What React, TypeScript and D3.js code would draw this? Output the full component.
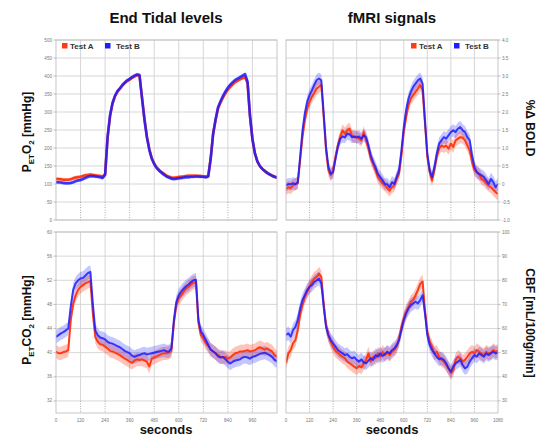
import React from "react";
import * as d3 from "d3";

// sample times (s), one reading every 12 s
const times = d3.range(0, 1081, 12);

const peto2A = [
  114, 114, 113, 112, 112, 112, 113, 116, 118, 119,
  120, 122, 124, 125, 126, 125, 124, 123, 122, 121,
  127, 228, 288, 323, 343, 356, 364, 373, 380, 386,
  390, 395, 399, 402, 401, 342, 282, 233, 197, 172,
  157, 146, 139, 133, 128, 123, 120, 118, 117, 118,
  119, 120, 121, 122, 123, 123, 123, 123, 122, 122,
  121, 120, 122, 172, 240, 278, 310, 326, 340, 352,
  362, 370, 377, 383, 387, 391, 394, 397, 380, 288,
  224, 185, 163, 150, 142, 136, 131, 127, 123, 120,
  118,
];
const peto2B = [
  105, 105, 104, 103, 102, 102, 103, 105, 108, 110,
  111, 114, 117, 120, 122, 122, 121, 120, 119, 117,
  125, 230, 290, 325, 345, 358, 366, 375, 382, 388,
  392, 397, 401, 404, 403, 340, 280, 230, 195, 170,
  155, 144, 137, 131, 126, 121, 118, 115, 114, 115,
  116, 117, 118, 119, 119, 120, 120, 121, 121, 120,
  120, 119, 121, 170, 240, 280, 314, 330, 345, 357,
  368, 376, 383, 389, 393, 397, 401, 405, 385, 290,
  225, 185, 163, 150, 142, 136, 131, 127, 123, 120,
  118,
];

const petco2A = [
  40.2, 39.9, 39.9, 40.1, 40.2, 40.4, 45.4, 48.1, 49.5, 50.4,
  50.9, 51.2, 51.5, 51.7, 51.9, 46.5, 42.6, 41.8, 41.4, 41.3,
  41.0, 40.7, 40.3, 40.2, 40.0, 39.8, 39.6, 39.3, 39.0, 38.8,
  38.5, 38.3, 38.7, 38.9, 38.8, 38.9, 38.7, 38.5, 37.7, 39.0,
  39.2, 39.4, 39.6, 39.8, 39.9, 39.9, 40.0, 40.2, 44.9, 47.9,
  49.0, 49.5, 50.1, 50.6, 50.9, 51.3, 51.6, 51.7, 44.9, 42.9,
  42.4, 41.6, 41.1, 40.5, 40.2, 39.9, 39.6, 39.3, 39.2, 39.3,
  39.0, 39.2, 39.6, 39.9, 40.0, 40.2, 40.2, 40.3, 40.4, 40.2,
  40.3, 40.4, 40.7, 40.9, 40.7, 40.5, 40.7, 40.4, 40.2, 39.6,
  39.3,
];
const petco2B = [
  42.6, 42.9, 43.2, 43.4, 43.7, 44.0, 47.6, 50.4, 51.5, 52.0,
  52.3, 52.4, 52.8, 53.2, 53.4, 48.1, 43.7, 42.9, 42.5, 42.4,
  42.2, 41.8, 41.6, 41.5, 41.3, 41.1, 40.9, 40.6, 40.3, 40.1,
  39.9, 39.5, 39.3, 39.5, 39.6, 39.8, 39.9, 39.7, 39.8, 39.9,
  40.0, 40.1, 40.2, 40.3, 40.4, 40.2, 40.2, 40.7, 45.4, 48.4,
  49.5, 50.1, 50.6, 51.0, 51.3, 51.7, 52.0, 52.1, 45.4, 43.5,
  42.9, 42.1, 41.3, 40.5, 40.2, 39.9, 39.4, 39.2, 39.3, 38.9,
  38.5, 38.2, 38.5, 38.7, 38.8, 38.9, 39.2, 39.3, 39.2, 39.0,
  39.3, 39.4, 39.6, 39.8, 39.9, 40.0, 39.8, 39.6, 39.3, 38.8,
  38.6,
];

const boldA = [
  -0.14, -0.09, -0.11, -0.04, 0.0, 0.02, 0.66, 1.3, 1.77, 2.09,
  2.28, 2.42, 2.53, 2.65, 2.7, 2.75, 1.86, 0.93, 0.38, 0.24,
  0.38, 0.75, 1.07, 1.3, 1.49, 1.4, 1.49, 1.54, 1.35, 1.3,
  1.32, 1.26, 1.21, 1.44, 1.21, 0.98, 0.7, 0.56, 0.38, 0.19,
  0.1, 0.02, -0.04, -0.11, -0.18, -0.09, -0.04, 0.14, 0.28, 0.79,
  1.44, 1.86, 2.19, 2.37, 2.47, 2.56, 2.65, 2.75, 2.6, 1.68,
  0.75, 0.33, 0.1, 0.38, 0.75, 0.98, 1.07, 1.03, 1.07, 0.98,
  1.12, 1.03, 1.21, 1.26, 1.3, 1.29, 1.21, 1.07, 0.93, 0.6,
  0.38, 0.33, 0.26, 0.14, 0.1, 0.02, -0.04, -0.09, -0.16, -0.23,
  -0.28,
];
const boldB = [
  -0.04, 0.0, -0.01, 0.02, -0.01, 0.05, 0.75, 1.49, 1.96, 2.28,
  2.47, 2.6, 2.75, 2.88, 2.93, 2.88, 1.96, 1.03, 0.47, 0.28,
  0.33, 0.7, 1.03, 1.26, 1.32, 1.3, 1.4, 1.38, 1.3, 1.32,
  1.29, 1.32, 1.26, 1.35, 1.3, 1.07, 0.79, 0.6, 0.47, 0.28,
  0.19, 0.1, 0.0, -0.01, -0.09, 0.05, 0.0, 0.19, 0.38, 0.93,
  1.58, 2.05, 2.37, 2.56, 2.7, 2.79, 2.88, 2.93, 2.79, 1.77,
  0.84, 0.38, 0.19, 0.47, 0.84, 1.12, 1.21, 1.3, 1.26, 1.35,
  1.44, 1.49, 1.44, 1.54, 1.58, 1.49, 1.44, 1.3, 1.21, 0.79,
  0.47, 0.33, 0.28, 0.24, 0.19, 0.1, 0.0, 0.14, 0.05, -0.09,
  0.0,
];

const cbfA = [
  45.6, 49.7, 51.1, 53.9, 55.2, 59.4, 65.6, 69.7, 73.1, 75.2,
  77.3, 79.3, 80.7, 81.4, 82.8, 81.4, 70.4, 61.4, 57.3, 54.5,
  52.5, 50.8, 50.0, 49.0, 48.3, 47.7, 46.3, 45.6, 44.9, 44.2,
  43.5, 44.5, 43.9, 45.6, 47.0, 49.7, 46.3, 48.3, 47.7, 49.7,
  48.3, 50.4, 49.0, 50.0, 49.0, 50.4, 51.1, 52.5, 55.9, 60.7,
  64.2, 66.9, 69.0, 71.1, 71.8, 73.8, 76.0, 78.5, 79.5, 67.6,
  58.7, 54.5, 52.5, 49.7, 50.4, 48.3, 47.0, 46.3, 44.9, 43.5,
  41.5, 42.8, 47.0, 48.3, 47.7, 46.3, 47.0, 48.3, 49.7, 50.4,
  49.7, 51.1, 50.4, 49.7, 49.0, 50.4, 49.7, 50.0, 51.1, 50.4,
  50.8,
];
const cbfB = [
  57.3, 58.0, 56.6, 59.4, 60.7, 63.5, 68.3, 71.8, 73.8, 75.9,
  77.3, 78.0, 79.3, 80.0, 80.7, 78.6, 69.0, 60.7, 57.3, 55.2,
  53.9, 52.5, 51.1, 50.4, 49.7, 49.0, 49.4, 48.3, 47.7, 48.1,
  47.0, 46.3, 47.2, 45.9, 45.6, 46.7, 47.7, 47.0, 49.0, 48.3,
  49.7, 48.6, 49.4, 50.4, 49.7, 51.1, 51.8, 53.2, 55.2, 59.4,
  63.5, 66.3, 68.3, 69.7, 70.4, 71.1, 70.4, 71.8, 73.8, 66.3,
  57.3, 53.2, 51.1, 49.7, 48.3, 47.2, 47.7, 47.0, 45.6, 43.5,
  42.1, 44.2, 45.6, 46.3, 47.0, 44.9, 43.5, 44.2, 46.3, 47.7,
  49.0, 48.3, 49.7, 49.0, 48.3, 49.7, 49.0, 49.7, 50.4, 49.7,
  50.0,
];

// half-width of the shaded band around each mean line
const spreadO2 = 5;
const spreadCO2 = 1.1;
const spreadBold = 0.17;
const spreadCbf = 2.8;

const o2Ticks = [0, 50, 100, 150, 200, 250, 300, 350, 400, 450, 500];
const co2Ticks = [32, 36, 40, 44, 48, 52, 56, 60];
const boldTicks = [-1, -0.5, 0, 0.5, 1, 1.5, 2, 2.5, 3, 3.5, 4];
const cbfTicks = [30, 40, 50, 60, 70, 80, 90, 100];
const leftXTicks = [0, 120, 240, 360, 480, 600, 720, 840, 960];
const rightXTicks = [0, 120, 240, 360, 480, 600, 720, 840, 960, 1080];

const RED = "#ff3b17";
const BLUE = "#1c1cff";
const FONT = "'Liberation Sans', Arial, Helvetica, sans-serif";

const panels = [
  { id: "o2", a: peto2A, b: peto2B, spread: spreadO2, domain: [0, 500], ticks: o2Ticks,
    left: 56, right: 277, top: 40, bottom: 220, side: "left", xTicks: leftXTicks, xLabels: false,
    fmt: (d) => String(d), legend: 62, lw: 2.6 },
  { id: "bold", a: boldA, b: boldB, spread: spreadBold, domain: [-1, 4], ticks: boldTicks,
    left: 286, right: 498, top: 40, bottom: 220, side: "right", xTicks: rightXTicks, xLabels: false,
    fmt: (d) => (d === 0 ? "0" : d.toFixed(1)), legend: 411, lw: 2 },
  { id: "co2", a: petco2A, b: petco2B, spread: spreadCO2, domain: [30, 60], ticks: co2Ticks,
    left: 56, right: 277, top: 232, bottom: 413, side: "left", xTicks: leftXTicks, xLabels: true,
    fmt: (d) => String(d), legend: null, lw: 2 },
  { id: "cbf", a: cbfA, b: cbfB, spread: spreadCbf, domain: [25, 100], ticks: cbfTicks,
    left: 286, right: 498, top: 232, bottom: 413, side: "right", xTicks: rightXTicks, xLabels: true,
    fmt: (d) => String(d), legend: null, lw: 2 },
];

function Panel({ p }) {
  const x = d3.scaleLinear().domain([0, 1080]).range([p.left, p.right]);
  const y = d3.scaleLinear().domain(p.domain).range([p.bottom, p.top]);
  const line = (vals) => d3.line().x((d, i) => x(times[i])).y((d) => y(d))(vals);
  const band = (vals) =>
    d3.area()
      .x((d, i) => x(times[i]))
      .y0((d) => y(d - p.spread))
      .y1((d) => y(d + p.spread))(vals);
  const clipId = "clip-" + p.id;
  const labelX = p.side === "left" ? p.left - 4 : p.right + 4;
  // the lowest grid line above the bottom edge: below it the verticals are dotted
  const lowGrid = d3.max(p.ticks.map((t) => y(t)).filter((v) => v < p.bottom - 1));
  return (
    <g>
      <defs>
        <clipPath id={clipId}>
          <rect x={p.left} y={p.top} width={p.right - p.left} height={p.bottom - p.top} />
        </clipPath>
      </defs>
      <rect x={p.left} y={p.top} width={p.right - p.left} height={p.bottom - p.top} fill="#fff" />
      {p.ticks.map((t) => (
        <line key={"h" + t} x1={p.left} x2={p.right} y1={y(t)} y2={y(t)} stroke="#d2d2d2" strokeWidth={0.9} />
      ))}
      {p.xTicks.filter((t) => t > 0 && t < 1080).map((t) => (
        <g key={"v" + t}>
          <line x1={x(t)} x2={x(t)} y1={p.top} y2={lowGrid} stroke="#d2d2d2" strokeWidth={0.9} />
          <line x1={x(t)} x2={x(t)} y1={lowGrid} y2={p.bottom} stroke="#8a8a8a" strokeWidth={0.7} strokeDasharray="1 1.5" />
        </g>
      ))}
      <g clipPath={`url(#${clipId})`}>
        <path d={band(p.a)} fill={RED} fillOpacity={0.3} />
        <path d={band(p.b)} fill={BLUE} fillOpacity={0.25} />
        <path d={line(p.a)} fill="none" stroke={RED} strokeWidth={p.lw} strokeLinejoin="round" />
        <path d={line(p.b)} fill="none" stroke={BLUE} strokeWidth={p.lw} strokeLinejoin="round" strokeOpacity={0.85} />
      </g>
      <rect x={p.left} y={p.top} width={p.right - p.left} height={p.bottom - p.top} fill="none" stroke="#b8b8b8" strokeWidth={0.8} />
      {p.ticks.map((t) => (
        <g key={"t" + t}>
          <line
            x1={p.side === "left" ? p.left - 2.5 : p.right}
            x2={p.side === "left" ? p.left : p.right + 2.5}
            y1={y(t)} y2={y(t)} stroke="#999" strokeWidth={0.6}
          />
          <text
            x={labelX} y={y(t)} dy="0.33em" fontSize={4.6} fill="#777"
            textAnchor={p.side === "left" ? "end" : "start"} fontFamily={FONT}
          >
            {p.fmt(t)}
          </text>
        </g>
      ))}
      {p.xLabels &&
        p.xTicks.map((t) => (
          <text key={"xl" + t} x={x(t)} y={p.bottom + 9} fontSize={4.6} fill="#777" textAnchor="middle" fontFamily={FONT}>
            {t}
          </text>
        ))}
      {p.legend !== null && (
        <g fontFamily={FONT} fontWeight="bold" fontSize={8} fill="#333">
          <rect x={p.legend} y={p.top + 3} width={5.5} height={5.5} fill={RED} />
          <text x={p.legend + 8} y={p.top + 8.6}>Test A</text>
          <rect x={p.legend + 43} y={p.top + 3} width={5.5} height={5.5} fill={BLUE} />
          <text x={p.legend + 54} y={p.top + 8.6}>Test B</text>
        </g>
      )}
    </g>
  );
}

export default function App() {
  return (
    <svg width={537} height={440} style={{ position: "absolute", left: 0, top: 0, background: "#fff" }}>
      <rect width={537} height={440} fill="#fff" />
      <g fontFamily={FONT} fontWeight="bold" fill="#111">
        <text x={166} y={23} fontSize={15} textAnchor="middle">End Tidal levels</text>
        <text x={392} y={23} fontSize={15} textAnchor="middle">fMRI signals</text>
        <text x={166} y={434} fontSize={13} textAnchor="middle">seconds</text>
        <text x={392} y={434} fontSize={13} textAnchor="middle">seconds</text>
        <text transform="translate(31,132) rotate(-90)" fontSize={12} textAnchor="middle">
          P<tspan fontSize={8} dy={3}>ET</tspan>
          <tspan dy={-3}>O</tspan>
          <tspan fontSize={8} dy={3}>2</tspan>
          <tspan dy={-3}> [mmHg]</tspan>
        </text>
        <text transform="translate(31,320) rotate(-90)" fontSize={12} textAnchor="middle">
          P<tspan fontSize={8} dy={3}>ET</tspan>
          <tspan dy={-3}>CO</tspan>
          <tspan fontSize={8} dy={3}>2</tspan>
          <tspan dy={-3}> [mmHg]</tspan>
        </text>
        <text transform="translate(526,128) rotate(90)" fontSize={12} textAnchor="middle">%Δ BOLD</text>
        <text transform="translate(526,323) rotate(90)" fontSize={12} textAnchor="middle">CBF [mL/100g/min]</text>
      </g>
      {panels.map((p) => (
        <Panel key={p.id} p={p} />
      ))}
    </svg>
  );
}
